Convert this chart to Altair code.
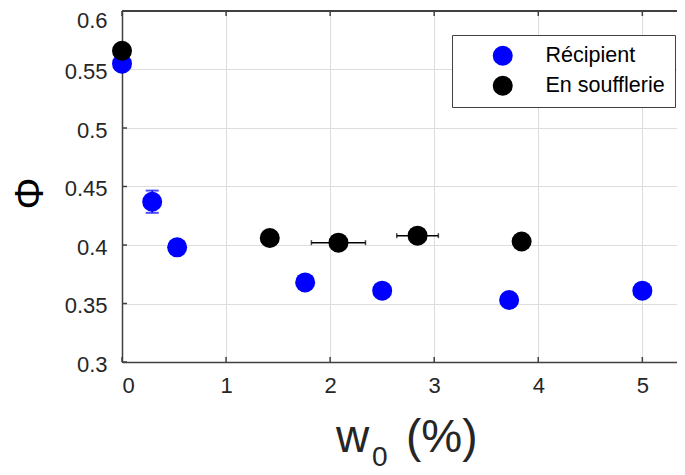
import altair as alt
import pandas as pd

# ---- data ----
series = ["Récipient", "En soufflerie"]
colors = ["#0000ff", "#000000"]

rec_x = [0.0, 0.29, 0.53, 1.76, 2.50, 3.72, 5.00]
rec_y = [0.555, 0.437, 0.398, 0.368, 0.361, 0.353, 0.361]
rec_yerr = [0.0, 0.0095, 0.0, 0.0, 0.0, 0.0, 0.0]

souf_x = [0.0, 1.42, 2.08, 2.84, 3.84]
souf_y = [0.566, 0.406, 0.402, 0.408, 0.403]
souf_xerr = [0.0, 0.0, 0.26, 0.20, 0.0]

x_ticks = [0, 1, 2, 3, 4, 5]
y_ticks = [0.3, 0.35, 0.4, 0.45, 0.5, 0.55, 0.6]

y_title = "Φ"
x_title_main = "w"
x_title_sub = "0"
x_title_unit = "(%)"

# ---- tables ----
pts = pd.DataFrame({
    "x": rec_x + souf_x,
    "y": rec_y + souf_y,
    "s": [series[0]] * len(rec_x) + [series[1]] * len(souf_x),
})

xe = pd.DataFrame({"x": souf_x, "y": souf_y, "e": souf_xerr})
xe = xe[xe.e > 0].copy()
xe["lo"] = xe.x - xe.e
xe["hi"] = xe.x + xe.e

ye = pd.DataFrame({"x": rec_x, "y": rec_y, "e": rec_yerr})
ye = ye[ye.e > 0].copy()
ye["lo"] = ye.y - ye.e
ye["hi"] = ye.y + ye.e

W, H = 555, 351
FONT = "Liberation Sans"
AX = "#404040"

xscale = alt.Scale(domain=[0, 5.333], nice=False, zero=False)
yscale = alt.Scale(domain=[0.3, 0.6], nice=False, zero=False)

points = alt.Chart(pts).mark_circle(size=400, opacity=1).encode(
    x=alt.X("x:Q", scale=xscale, axis=alt.Axis(
        values=x_ticks, format="d", title=None, labelFontSize=22,
        labelColor="#262626", labelPadding=13, ticks=False,
        domainColor=AX, domainWidth=1.5, gridColor="#dedede", gridWidth=1)),
    y=alt.Y("y:Q", scale=yscale, axis=alt.Axis(
        values=y_ticks, format=".2~f", title=y_title, titleFontSize=40,
        titleFontWeight="normal", titleColor="#000000", titleX=-92, titleY=182,
        titleAlign="center", titleBaseline="middle", labelFontSize=22,
        labelColor="#262626", labelPadding=15, ticks=False,
        labelOffset={"condition": {"test": "datum.value >= 0.599", "value": 9}, "value": 2},
        domainColor=AX, domainWidth=1.5, gridColor="#dedede", gridWidth=1)),
    color=alt.Color("s:N", scale=alt.Scale(domain=series, range=colors),
                    legend=alt.Legend(
                        title=None, orient="none", legendX=330, legendY=24,
                        fillColor="white", strokeColor=AX, padding=10,
                        symbolSize=400, symbolType="circle", symbolOffset=30,
                        labelOffset=32, labelFontSize=21.5, labelFont=FONT,
                        labelColor="#000000", rowPadding=7,
                        symbolStrokeWidth=0)),
)

xbar = alt.Chart(xe).mark_rule(color="black", strokeWidth=1.5).encode(
    x=alt.X("lo:Q", scale=xscale), x2="hi:Q", y=alt.Y("y:Q", scale=yscale))
xcap_lo = alt.Chart(xe).mark_tick(color="black", orient="vertical", size=5, thickness=1.5).encode(
    x=alt.X("lo:Q", scale=xscale), y=alt.Y("y:Q", scale=yscale))
xcap_hi = alt.Chart(xe).mark_tick(color="black", orient="vertical", size=5, thickness=1.5).encode(
    x=alt.X("hi:Q", scale=xscale), y=alt.Y("y:Q", scale=yscale))

ybar = alt.Chart(ye).mark_rule(color="#0000ff", strokeWidth=1.5).encode(
    x=alt.X("x:Q", scale=xscale), y=alt.Y("lo:Q", scale=yscale), y2="hi:Q")
ycap_lo = alt.Chart(ye).mark_tick(color="#0000ff", orient="horizontal", size=13, thickness=2).encode(
    x=alt.X("x:Q", scale=xscale), y=alt.Y("lo:Q", scale=yscale))
ycap_hi = alt.Chart(ye).mark_tick(color="#0000ff", orient="horizontal", size=13, thickness=2).encode(
    x=alt.X("x:Q", scale=xscale), y=alt.Y("hi:Q", scale=yscale))

xt = pd.DataFrame({"v": x_ticks})
yt = pd.DataFrame({"v": y_ticks})
tick_b = alt.Chart(xt).mark_rule(color=AX, strokeWidth=1.5).encode(
    x=alt.X("v:Q", scale=xscale), y=alt.value(H), y2=alt.value(H - 5))
tick_t = alt.Chart(xt).mark_rule(color=AX, strokeWidth=1.5).encode(
    x=alt.X("v:Q", scale=xscale), y=alt.value(0), y2=alt.value(5))
tick_l = alt.Chart(yt).mark_rule(color=AX, strokeWidth=1.5).encode(
    y=alt.Y("v:Q", scale=yscale), x=alt.value(0), x2=alt.value(5))
top_line = alt.Chart(xt).mark_rule(color=AX, strokeWidth=1.5).encode(
    x=alt.value(0), x2=alt.value(W), y=alt.value(0))

lab = pd.DataFrame({"a": [0]})
t_main = alt.Chart(lab).mark_text(align="left", baseline="alphabetic", fontSize=46,
                                  font=FONT, color="#262626").encode(
    x=alt.value(214), y=alt.value(441), text=alt.value(x_title_main))
t_sub = alt.Chart(lab).mark_text(align="left", baseline="alphabetic", fontSize=28,
                                 font=FONT, color="#262626").encode(
    x=alt.value(250), y=alt.value(455), text=alt.value(x_title_sub))
t_unit = alt.Chart(lab).mark_text(align="left", baseline="alphabetic", fontSize=46,
                                  font=FONT, color="#262626").encode(
    x=alt.value(284), y=alt.value(441), text=alt.value(x_title_unit))

chart = alt.layer(
    tick_b, tick_t, tick_l, top_line,
    xbar, xcap_lo, xcap_hi, ybar, ycap_lo, ycap_hi,
    points, t_main, t_sub, t_unit,
).properties(
    width=W, height=H,
    padding={"left": 114, "top": 3, "right": 0, "bottom": 113},
    autosize="none",
).configure(font=FONT).configure_view(stroke=None)

chart.save("out.html", embed_options={"renderer": "svg", "actions": False})
